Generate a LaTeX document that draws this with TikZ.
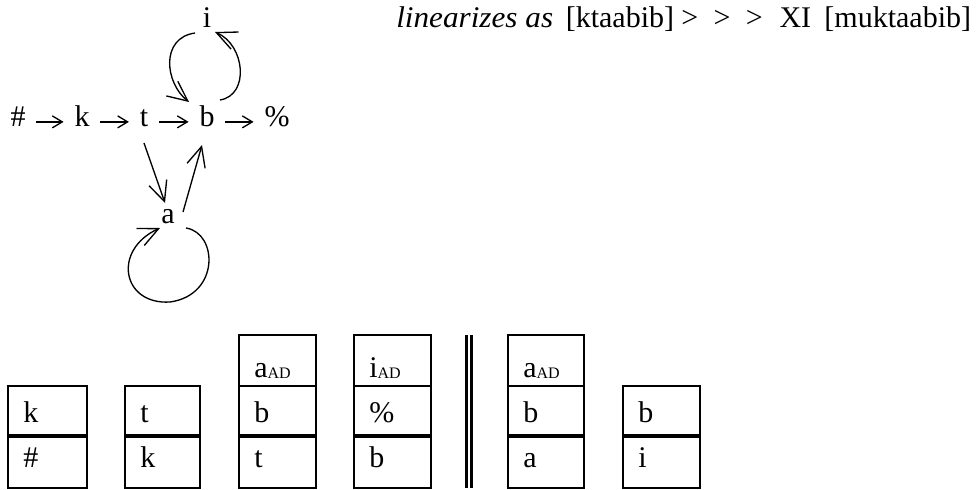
\documentclass[tikz,border=0pt]{standalone}
\usepackage{fontspec}
\setmainfont{Liberation Serif}
\usetikzlibrary{arrows.meta,calc}

\newcommand{\subAD}{{\fontsize{12}{14}\selectfont\raisebox{-1pt}{AD}}}

\begin{document}
\begin{tikzpicture}[x=0.75pt,y=-0.75pt,
  every node/.style={font=\fontsize{22.5}{27}\selectfont},
  sym/.style={inner xsep=8pt, inner ysep=0pt, text height=0.62em, text depth=0pt, anchor=base},
  flow/.style={line width=1pt, -{Straight Barb[length=7.5pt,width=9pt,line width=1pt]}},
  bigflow/.style={line width=1pt, -{Straight Barb[length=15pt,width=14pt,line width=1pt]}},
  cellline/.style={line width=1.5pt},
  sepline/.style={line width=2.7pt},
  barline/.style={line width=2.2pt},
  celltext/.style={anchor=base west, inner sep=0pt}
]
\useasboundingbox (0,0) rectangle (980,489);

% ---------- transition graph ----------
\node[sym] (nh) at (18,126) {\#};
\node[sym] (nk) at (82,126) {k};
\node[sym] (nt) at (144,126) {t};
\node[sym] (nb) at (207,126) {b};
\node[sym] (np) at (277,126) {\%};
\node[sym] (ni) at (207,27) {i};
\node[sym] (na) at (168,223) {a};

\draw[flow] (nh) -- (nk);
\draw[flow] (nk) -- (nt);
\draw[flow] (nt) -- (nb);
\draw[flow] (nb) -- (np);

% detour through a
\draw[bigflow] ($(nt.base)+(0,17)$) -- ($(na.base)+(-3,-20)$);
\draw[bigflow] ($(na.base)+(15,-11)$) -- ($(nb.base)+(-5,19)$);

% loop between b and i
\draw[bigflow] ($(ni.base)+(-12,6)$) .. controls (160,38) and (165,83) .. ($(nb.base)+(-18,-24)$);
\draw[bigflow] ($(nb.base)+(13,-26)$) .. controls (250,95) and (245,45) .. ($(ni.base)+(8,5)$);

% self-loop on a
\draw[bigflow] ($(na.base)+(18,5)$) .. controls (218,233) and (220,295) .. (170,302)
   .. controls (122,305) and (112,250) .. ($(na.base)+(-8,5)$);

% ---------- linearization ----------
\node[anchor=base west, inner sep=0pt] (lin) at (396,27)
  {\scalebox{1.04}[1]{\textit{linearizes as}}\hspace{9.5pt}[ktaabib]\hspace{5.5pt}>\hspace{11.5pt}>\hspace{11.5pt}>\hspace{12.5pt}XI\hspace{10pt}[muktaabib]};

% ---------- stacks ----------
% column 1
\draw[cellline] (8,386) rectangle (87,488);
\draw[cellline] (6.5,386) -- (8,386);
\draw[sepline] (8,436) -- (87,436);
\node[celltext] (c1m) at (23,422) {k};
\node[celltext] (c1b) at (23,467) {\#};
% column 2
\draw[cellline] (125,386) rectangle (200,488);
\draw[sepline] (125,436) -- (200,436);
\node[celltext] (c2m) at (140,422) {t};
\node[celltext] (c2b) at (140,467) {k};
% column 3
\draw[cellline] (239,335) rectangle (316,488);
\draw[cellline] (239,386) -- (316,386);
\draw[sepline] (239,436) -- (316,436);
\node[celltext] (c3t) at (254,377) {a\subAD};
\node[celltext] (c3m) at (254,422) {b};
\node[celltext] (c3b) at (254,467) {t};
% column 4
\draw[cellline] (354,335) rectangle (431,488);
\draw[cellline] (354,386) -- (431,386);
\draw[sepline] (354,436) -- (431,436);
\node[celltext] (c4t) at (369,377) {i\subAD};
\node[celltext] (c4m) at (369,422) {\%};
\node[celltext] (c4b) at (369,467) {b};
% double bar
\draw[barline] (466.5,335) -- (466.5,488);
\draw[barline] (471.5,335) -- (471.5,488);
% column 5
\draw[cellline] (508,335) rectangle (584,488);
\draw[cellline] (508,386) -- (584,386);
\draw[sepline] (508,436) -- (584,436);
\node[celltext] (c5t) at (523,377) {a\subAD};
\node[celltext] (c5m) at (523,422) {b};
\node[celltext] (c5b) at (523,467) {a};
% column 6
\draw[cellline] (623,386) rectangle (700,488);
\draw[sepline] (623,436) -- (700,436);
\node[celltext] (c6m) at (638,422) {b};
\node[celltext] (c6b) at (638,467) {i};
\end{tikzpicture}
\end{document}
